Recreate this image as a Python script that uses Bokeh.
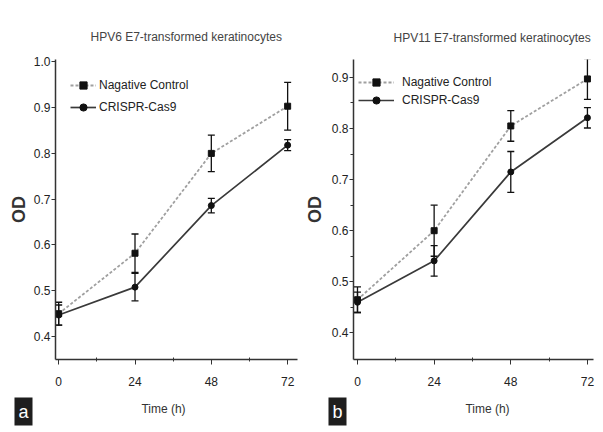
from bokeh.plotting import figure
from bokeh.layouts import row
from bokeh.models import (ColumnDataSource, Whisker, TeeHead, Legend, LegendItem,
                          Label, FixedTicker, NumeralTickFormatter, Range1d, Title)
from bokeh.embed import file_html
from bokeh.resources import INLINE

# ---------------- data ----------------
time_h = [0, 24, 48, 72]
x_ticks = [0, 24, 48, 72]
x_minor = [12, 36, 60]

hpv6_neg = [0.450, 0.582, 0.800, 0.903]
hpv6_neg_err = [0.025, 0.042, 0.040, 0.052]
hpv6_cas9 = [0.447, 0.508, 0.686, 0.818]
hpv6_cas9_err = [0.022, 0.030, 0.016, 0.012]

hpv11_neg = [0.465, 0.600, 0.805, 0.897]
hpv11_neg_err = [0.025, 0.050, 0.030, 0.040]
hpv11_cas9 = [0.460, 0.541, 0.715, 0.821]
hpv11_cas9_err = [0.020, 0.030, 0.040, 0.020]

y_ticks_a = [0.4, 0.5, 0.6, 0.7, 0.8, 0.9, 1.0]
y_ticks_b = [0.4, 0.5, 0.6, 0.7, 0.8, 0.9]
y_minor_b = [0.45, 0.55, 0.65, 0.75, 0.85]

titles = ["HPV6 E7-transformed keratinocytes", "HPV11 E7-transformed keratinocytes"]
series_names = ["Nagative Control", "CRISPR-Cas9"]
panel_letters = ["a", "b"]
y_label = "OD"
x_label = "Time (h)"

FONT = "Liberation Sans"
H = 432


def make_panel(g, neg, neg_err, cas, cas_err, yt, ymin, title, letter):
    p = figure(width=g["w"], height=H, output_backend="svg", toolbar_location=None,
               x_range=Range1d(*g["xr"]), y_range=Range1d(*g["yr"]),
               min_border_left=g["mbl"], min_border_right=g["mbr"],
               min_border_top=g["mbt"], min_border_bottom=g["mbb"])
    p.outline_line_color = None
    p.grid.visible = False
    p.background_fill_color = "white"
    p.border_fill_color = "white"

    p.title = Title(text=title, align="left", offset=g["toff"], standoff=g["tstand"],
                    text_font=FONT, text_font_size="12px", text_font_style="normal",
                    text_color="#444444")

    for ax in (p.xaxis[0], p.yaxis[0]):
        ax.axis_line_color = "#333333"
        ax.axis_line_width = 1.5
        ax.major_tick_line_color = "#333333"
        ax.minor_tick_line_color = "#333333"
        ax.major_label_text_font = FONT
        ax.major_label_text_font_size = "12px"
        ax.major_label_text_color = "#222222"
        ax.axis_label_text_color = "#333333"
    p.xaxis.ticker = FixedTicker(ticks=x_ticks, minor_ticks=x_minor)
    p.xaxis.major_tick_out = 5
    p.xaxis.major_tick_in = 0
    p.xaxis.minor_tick_out = 2
    p.xaxis.minor_tick_in = 2
    p.xaxis.major_label_standoff = 12

    p.yaxis.ticker = FixedTicker(ticks=yt, minor_ticks=ymin)
    p.yaxis.formatter = NumeralTickFormatter(format="0.0")
    p.yaxis.major_tick_out = 4
    p.yaxis.major_tick_in = 0
    p.yaxis.minor_tick_out = 3
    p.yaxis.minor_tick_in = 0
    p.yaxis.major_label_standoff = 1
    p.yaxis.axis_label = y_label
    p.yaxis.axis_label_text_font = FONT
    p.yaxis.axis_label_text_font_size = "18px"
    p.yaxis.axis_label_text_font_style = "bold"
    p.yaxis.axis_label_standoff = g["odstand"]

    src_neg = ColumnDataSource(dict(x=time_h, y=neg,
                                    lo=[v - e for v, e in zip(neg, neg_err)],
                                    hi=[v + e for v, e in zip(neg, neg_err)]))
    src_cas = ColumnDataSource(dict(x=time_h, y=cas,
                                    lo=[v - e for v, e in zip(cas, cas_err)],
                                    hi=[v + e for v, e in zip(cas, cas_err)]))

    l_neg = p.line("x", "y", source=src_neg, line_color="#a0a0a0", line_width=1.8,
                   line_dash="3 2")
    l_cas = p.line("x", "y", source=src_cas, line_color="#3a3a3a", line_width=1.7)
    for src in (src_neg, src_cas):
        w = Whisker(source=src, base="x", upper="hi", lower="lo", line_color="#111111",
                    line_width=1.3,
                    upper_head=TeeHead(size=7, line_color="#111111", line_width=1.3),
                    lower_head=TeeHead(size=7, line_color="#111111", line_width=1.3))
        p.add_layout(w)
    m_neg = p.scatter("x", "y", source=src_neg, marker="square", size=6,
                      fill_color="#111111", line_color="#111111")
    m_cas = p.scatter("x", "y", source=src_cas, marker="circle", size=6,
                      fill_color="#111111", line_color="#111111")

    leg = Legend(items=[LegendItem(label=series_names[0], renderers=[l_neg, m_neg]),
                        LegendItem(label=series_names[1], renderers=[l_cas, m_cas])],
                 location=g["leg"], padding=0, margin=0, spacing=g["lsp"],
                 label_height=g["lh"], glyph_height=g["lh"], glyph_width=g["gw"],
                 label_standoff=g["lstand"], label_text_font=FONT,
                 label_text_font_size="12px",
                 label_text_color="#222222", background_fill_alpha=0,
                 border_line_alpha=0)
    p.add_layout(leg)

    # x-axis title and panel letter, stacked in the bottom side panel
    p.add_layout(Label(x=g["timex"], y=-6, x_units="screen", y_units="screen",
                       text=x_label, text_font=FONT, text_font_size="12px",
                       text_color="#333333", text_align="center",
                       text_baseline="middle"), "below")
    p.add_layout(Label(x=g["letx"], y=13, x_units="screen", y_units="screen",
                       text=letter, text_font=FONT, text_font_size="18px",
                       text_color="white", background_fill_color="#1e1e1e",
                       border_line_color="#1e1e1e", border_line_width=6,
                       border_line_join="miter", padding=1,
                       text_align="center", text_baseline="middle"), "below")
    return p


geom_a = dict(w=300, mbl=55, mbr=3, mbt=59, mbb=H - 362, xr=(-1.0, 75.1),
              yr=(0.35, 1.005), leg=(15, 243), lh=18, lsp=4, gw=26, lstand=3,
              toff=35, tstand=32, odstand=2, timex=108, letx=-32)
geom_b = dict(w=300, mbl=53, mbr=7, mbt=55, mbb=H - 359, xr=(-1.25, 73.9),
              yr=(0.348, 0.935), leg=(5, 250), lh=18, lsp=0, gw=36, lstand=8,
              toff=40, tstand=29, odstand=4, timex=134, letx=-16)

pa = make_panel(geom_a, hpv6_neg, hpv6_neg_err, hpv6_cas9, hpv6_cas9_err,
                y_ticks_a, [], titles[0], panel_letters[0])
pb = make_panel(geom_b, hpv11_neg, hpv11_neg_err, hpv11_cas9, hpv11_cas9_err,
                y_ticks_b, y_minor_b, titles[1], panel_letters[1])

layout = row(pa, pb, spacing=0)
open("out.html", "w").write(file_html(layout, INLINE))
